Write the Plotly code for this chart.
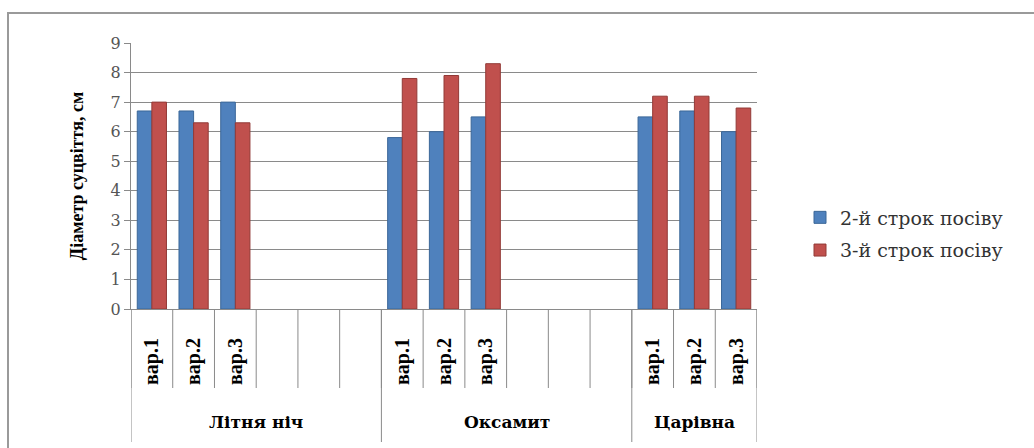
import plotly.graph_objects as go

# Varieties (outer level), variants (inner level); the blank slots keep the spacing
groups = ["Літня ніч", "Оксамит", "Царівна"]
group_sizes = [6, 6, 3]
variants = ["вар.1", "вар.2", "вар.3", "", "", "",
            "вар.1", "вар.2", "вар.3", "", "", "",
            "вар.1", "вар.2", "вар.3"]

# Inflorescence diameter, cm
term2 = [6.7, 6.7, 7.0, None, None, None,
         5.8, 6.0, 6.5, None, None, None,
         6.5, 6.7, 6.0]
term3 = [7.0, 6.3, 6.3, None, None, None,
         7.8, 7.9, 8.3, None, None, None,
         7.2, 7.2, 6.8]

series_names = ["2-й строк посіву", "3-й строк посіву"]
y_ticks = list(range(0, 10))

serif = "Liberation Serif"      # narrow serif for the rotated labels
wide_serif = "DejaVu Serif"     # wider serif for the horizontal texts
grid = "#8a8a8a"

slots = list(range(len(variants)))

# plot area geometry in pixels (used to convert label offsets to paper units)
W, H = 1034, 448
L, R, T, B = 131, 277, 43, 139
plot_h = H - T - B
plot_w = W - L - R

fig = go.Figure()
fig.add_trace(go.Bar(
    x=slots, y=term2, name=series_names[0], legendgroup="t2",
    marker=dict(color="#4F81BD", line=dict(color="#3B6798", width=1)),
))
fig.add_trace(go.Bar(
    x=slots, y=term3, name=series_names[1], legendgroup="t3",
    marker=dict(color="#C0504D", line=dict(color="#923A37", width=1)),
))

shapes = []
# dividers between the variants
for i in range(len(variants) + 1):
    shapes.append(dict(type="line", xref="x", yref="paper",
                       x0=i - 0.5, x1=i - 0.5, y0=0, y1=-79 / plot_h,
                       line=dict(color=grid, width=1)))
# dividers between the varieties, and their labels
annotations = []
start = 0
edges = [start]
for name, n in zip(groups, group_sizes):
    annotations.append(dict(
        x=start + (n - 1) / 2, xref="x", y=-113 / plot_h, yref="paper",
        text=name, showarrow=False, xanchor="center", yanchor="middle",
        font=dict(family=wide_serif, size=17, color="#000000", weight="bold"),
    ))
    start += n
    edges.append(start)
for e in edges:
    shapes.append(dict(type="line", xref="x", yref="paper",
                       x0=e - 0.5, x1=e - 0.5, y0=0, y1=-133 / plot_h,
                       line=dict(color=grid, width=1)))

# outer chart frame
shapes.append(dict(
    type="rect", xref="paper", yref="paper",
    x0=(8 - L) / plot_w, x1=(W + 10 - L) / plot_w,
    y0=-(B + 10) / plot_h, y1=(H - B - 13) / plot_h,
    line=dict(color="#9a9a9a", width=2), fillcolor="rgba(0,0,0,0)",
    layer="below",
))

fig.update_layout(
    width=W, height=H,
    margin=dict(l=L, r=R, t=T, b=B),
    paper_bgcolor="white", plot_bgcolor="white",
    barmode="group", bargap=0.3, bargroupgap=0.0,
    font=dict(family=serif, color="#000000"),
    showlegend=True,
    legend=dict(
        x=(800 - L) / plot_w, y=(H - B - 234) / plot_h,
        xanchor="left", yanchor="middle",
        font=dict(family=wide_serif, size=19, color="#333333"),
        itemwidth=30, tracegroupgap=5,
        bgcolor="rgba(0,0,0,0)",
    ),
    xaxis=dict(
        range=[-0.5, len(variants) - 0.5],
        tickvals=slots, ticktext=variants,
        tickangle=-90,
        tickfont=dict(family=serif, size=20, color="#000000", weight="bold"),
        ticks="outside", ticklen=20, tickcolor="rgba(0,0,0,0)",
        showline=True, linecolor=grid, linewidth=1,
        showgrid=False, zeroline=False,
    ),
    yaxis=dict(
        range=[0, 9], tickvals=y_ticks,
        tickfont=dict(family=wide_serif, size=16, color="#555555"),
        showgrid=True, gridcolor=grid, gridwidth=1,
        showline=True, linecolor=grid, linewidth=1,
        ticks="outside", ticklen=6, tickcolor=grid,
        zeroline=False,
        title=dict(text="Діаметр суцвіття, см",
                   font=dict(family=serif, size=18, color="#000000",
                             weight="bold"),
                   standoff=22),
    ),
    shapes=shapes,
    annotations=annotations,
)

fig.write_html("out.html")
